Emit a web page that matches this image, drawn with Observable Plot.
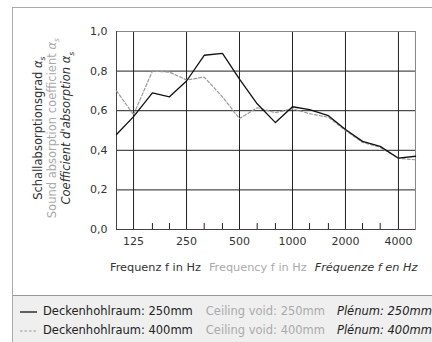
<!DOCTYPE html>
<html><head><meta charset="utf-8">
<script src="https://cdn.jsdelivr.net/npm/d3@7"></script>
<script src="https://cdn.jsdelivr.net/npm/@observablehq/plot@0.6"></script>
<style>
body{margin:0;background:#fff;font-family:"DejaVu Sans",sans-serif;}
#wrap{position:relative;width:432px;height:342px;overflow:hidden;background:#fff;}
#box{position:absolute;left:12px;top:7px;width:440px;height:360px;border-left:1px solid #aaa;border-top:1px solid #aaa;box-sizing:border-box;}
#chart{position:absolute;left:0;top:0;}
.ylab{position:absolute;white-space:nowrap;font-size:11.5px;transform-origin:center center;}
#xlab{position:absolute;left:110px;top:261px;white-space:nowrap;font-size:11.3px;color:#333;}
#legend{position:absolute;left:12px;top:295px;width:440px;height:60px;background:#efefef;border-top:1px solid #999;border-left:1px solid #aaa;box-sizing:border-box;font-size:11.5px;color:#222;}
.row{position:absolute;left:6px;white-space:nowrap;}
.g{color:#aaa;margin-left:13px;}
.i{font-style:italic;margin-left:12px;}
#xlab .g{margin-left:8px;}
#xlab .i{margin-left:8px;}
sub{font-size:65%;}
</style></head>
<body><div id="wrap"><div id="box"></div><div id="chart"></div>
<div class="ylab" id="y1" style="color:#333">Schallabsorptionsgrad <i>α<sub>s</sub></i></div>
<div class="ylab" id="y2" style="color:#aaa">Sound absorption coefficient <i>α<sub>s</sub></i></div>
<div class="ylab" id="y3" style="color:#333;font-style:italic">Coefficient d'absorption α<sub>s</sub></div>
<div id="xlab">Frequenz f in Hz<span class="g">Frequency f in Hz</span><span class="i">Fréquenze f en Hz</span></div>
<div id="legend">
<div class="row" style="top:8px"><svg width="20" height="8" style="vertical-align:middle;margin-right:4px"><line x1="1" x2="18" y1="4" y2="4" stroke="#111" stroke-width="1.3"/></svg>Deckenhohlraum: 250mm<span class="g">Ceiling void: 250mm</span><span class="i">Plénum: 250mm</span></div>
<div class="row" style="top:27px"><svg width="20" height="8" style="vertical-align:middle;margin-right:4px"><line x1="1" x2="18" y1="4" y2="4" stroke="#999" stroke-width="1.2" stroke-dasharray="2.5,2"/></svg>Deckenhohlraum: 400mm<span class="g">Ceiling void: 400mm</span><span class="i">Plénum: 400mm</span></div>
</div>
</div>
<script>
const freqs = [100,125,160,200,250,315,400,500,630,800,1000,1250,1600,2000,2500,3150,4000,5000];
const void250 = [0.48,0.57,0.69,0.67,0.75,0.88,0.89,0.76,0.635,0.54,0.62,0.605,0.575,0.505,0.445,0.42,0.36,0.37];
const void400 = [0.70,0.58,0.80,0.795,0.755,0.77,0.67,0.56,0.615,0.59,0.61,0.585,0.567,0.50,0.44,0.415,0.36,0.352];
const majorTicks = [125,250,500,1000,2000,4000];
const minorTicks = [160,200,315,400,630,800,1250,1600,2500,3150];
const yTicks = [0,0.2,0.4,0.6,0.8,1.0];

const d250 = freqs.map((f,i)=>({f, a: void250[i]}));
const d400 = freqs.map((f,i)=>({f, a: void400[i]}));

const plot = Plot.plot({
  width: 432, height: 290,
  marginLeft: 116, marginRight: 17, marginTop: 31, marginBottom: 61,
  style: {fontFamily: "DejaVu Sans, sans-serif", fontSize: "11px", background: "transparent", color: "#333"},
  x: {type: "log", domain: [100, 5000], axis: null},
  y: {domain: [0, 1], axis: null},
  marks: [
    Plot.ruleY(yTicks.slice(1, 5), {stroke: "#222", strokeWidth: 1}),
    Plot.ruleX(majorTicks, {stroke: "#222", strokeWidth: 1}),
    Plot.ruleX(minorTicks, {y1: 0, y2: 0.03, stroke: "#222"}),
    Plot.frame({stroke: "#888"}),
    Plot.ruleY([0], {stroke: "#444"}),
    Plot.ruleX([100], {stroke: "#444"}),
    Plot.text(majorTicks, {x: d => d, frameAnchor: "bottom", lineAnchor: "top", dy: 8, text: d => String(d), fill: "#333"}),
    Plot.text(yTicks, {y: d => d, frameAnchor: "left", textAnchor: "end", dx: -9, text: d => d.toFixed(1).replace(".", ","), fill: "#333"}),
    Plot.line(d400, {x: "f", y: "a", stroke: "#999", strokeWidth: 1.2, strokeDasharray: "3,2"}),
    Plot.line(d250, {x: "f", y: "a", stroke: "#111", strokeWidth: 1.3})
  ]
});
document.getElementById("chart").appendChild(plot);

const centers = [[38,"y1"],[53,"y2"],[67,"y3"]];
for (const [cx,id] of centers) {
  const el = document.getElementById(id);
  const w = el.offsetWidth, h = el.offsetHeight;
  el.style.left = (cx - w/2) + "px";
  el.style.top = (128 - h/2) + "px";
  el.style.transform = "rotate(-90deg)";
}
</script>
</body></html>
